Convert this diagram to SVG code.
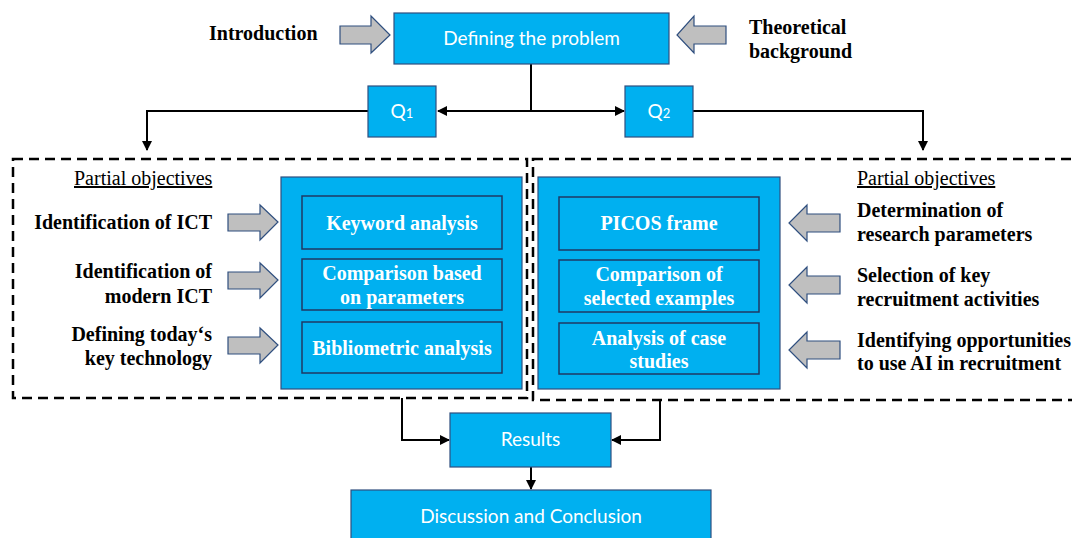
<svg xmlns="http://www.w3.org/2000/svg" width="1072" height="538" viewBox="0 0 1072 538">
<defs>
<style>
.bx{fill:#00B0F0;stroke:#2F4F7F;stroke-width:1.2}
.ib{fill:#00B0F0;stroke:#1F3864;stroke-width:1.5}
.st{font-family:Lato,"Liberation Sans",sans-serif;font-size:19px;fill:#fff;text-anchor:middle}
.sr{font-family:"Liberation Serif","Times New Roman",serif;font-size:20px;font-weight:bold;fill:#000}
.wt{font-family:"Liberation Serif","Times New Roman",serif;font-size:20px;font-weight:bold;fill:#fff;text-anchor:middle}
.po{font-family:"Liberation Serif","Times New Roman",serif;font-size:20px;fill:#000;text-decoration:underline}
.ga{fill:#BFBFBF;stroke:#2F4F7F;stroke-width:1.2}
.cn{fill:none;stroke:#000;stroke-width:2}
.ds{fill:none;stroke:#000;stroke-width:2.5;stroke-dasharray:10 6}
</style>
<marker id="ah" viewBox="0 0 10 10" refX="9" refY="5" markerWidth="5" markerHeight="5" orient="auto" markerUnits="strokeWidth">
<path d="M0,0 L10,5 L0,10 z" fill="#000"/>
</marker>
</defs>
<rect width="1072" height="538" fill="#fff"/>

<g id="frames">
<rect class="ds" x="13" y="159" width="514" height="239"/>
<rect class="ds" x="533" y="159" width="560" height="241"/>
</g>

<g id="connectors">
<line class="cn" x1="531" y1="64" x2="531" y2="111"/>
<line class="cn" x1="531" y1="111" x2="438" y2="111" marker-end="url(#ah)"/>
<line class="cn" x1="531" y1="111" x2="624" y2="111" marker-end="url(#ah)"/>
<polyline class="cn" points="368,111 147,111 147,150" marker-end="url(#ah)"/>
<polyline class="cn" points="693,111 923,111 923,150" marker-end="url(#ah)"/>
<polyline class="cn" points="402,398 402,440 449,440" marker-end="url(#ah)"/>
<polyline class="cn" points="660,400 660,440 612,440" marker-end="url(#ah)"/>
<line class="cn" x1="531" y1="467" x2="531" y2="489" marker-end="url(#ah)"/>
</g>

<g id="intro">
<text class="sr" x="209" y="40">Introduction</text>
<path class="ga" d="M340,26 L371,26 L371,16 L390,35 L371,53 L371,44 L340,44 z"/>
</g>

<g id="theory">
<text class="sr" x="749" y="34">Theoretical</text>
<text class="sr" x="749" y="58">background</text>
<path class="ga" d="M726,26 L694,26 L694,16 L677,35 L694,53 L694,44 L726,44 z"/>
</g>

<g id="problem">
<rect class="bx" x="394" y="13" width="275" height="51"/>
<text class="st" x="531.5" y="45">Defining the problem</text>
</g>

<g id="q1">
<rect class="bx" x="368" y="86" width="68" height="51"/>
<text class="st" x="402" y="118">Q<tspan font-size="13">1</tspan></text>
</g>

<g id="q2">
<rect class="bx" x="625" y="86" width="68" height="51"/>
<text class="st" x="659" y="118">Q<tspan font-size="13">2</tspan></text>
</g>

<g id="left-objectives">
<text class="po" x="74" y="185">Partial objectives</text>
<g text-anchor="end">
<text class="sr" x="212" y="229">Identification of ICT</text>
<text class="sr" x="212" y="278">Identification of</text>
<text class="sr" x="212" y="303">modern ICT</text>
<text class="sr" x="212" y="341">Defining today‘s</text>
<text class="sr" x="212" y="365">key technology</text>
</g>
<path class="ga" d="M228,214 L260,214 L260,205 L278,222 L260,240 L260,231 L228,231 z"/>
<path class="ga" d="M228,272 L260,272 L260,263 L278,280 L260,298 L260,289 L228,289 z"/>
<path class="ga" d="M228,337 L260,337 L260,328 L278,345 L260,363 L260,354 L228,354 z"/>
</g>

<g id="left-methods">
<rect class="bx" x="281" y="177" width="241" height="212"/>
<rect class="ib" x="302" y="196" width="200" height="53"/>
<text class="wt" x="402" y="230">Keyword analysis</text>
<rect class="ib" x="302" y="259" width="200" height="51"/>
<text class="wt" x="402" y="280">Comparison based</text>
<text class="wt" x="402" y="304">on parameters</text>
<rect class="ib" x="302" y="322" width="200" height="51"/>
<text class="wt" x="402" y="355">Bibliometric analysis</text>
</g>

<g id="right-methods">
<rect class="bx" x="538" y="177" width="242" height="212"/>
<rect class="ib" x="559" y="197" width="200" height="53"/>
<text class="wt" x="659" y="230">PICOS frame</text>
<rect class="ib" x="559" y="260" width="200" height="52"/>
<text class="wt" x="659" y="281">Comparison of</text>
<text class="wt" x="659" y="305">selected examples</text>
<rect class="ib" x="559" y="323" width="200" height="51"/>
<text class="wt" x="659" y="345">Analysis of case</text>
<text class="wt" x="659" y="368">studies</text>
</g>

<g id="right-objectives">
<text class="po" x="857" y="185">Partial objectives</text>
<text class="sr" x="857" y="217">Determination of</text>
<text class="sr" x="857" y="241">research parameters</text>
<text class="sr" x="857" y="282">Selection of key</text>
<text class="sr" x="857" y="306">recruitment activities</text>
<text class="sr" x="857" y="347">Identifying opportunities</text>
<text class="sr" x="857" y="370">to use AI in recruitment</text>
<path class="ga" d="M840,214 L807,214 L807,205 L789,223 L807,241 L807,232 L840,232 z"/>
<path class="ga" d="M840,276 L807,276 L807,267 L789,285 L807,303 L807,294 L840,294 z"/>
<path class="ga" d="M840,341 L807,341 L807,332 L789,350 L807,368 L807,359 L840,359 z"/>
</g>

<g id="results">
<rect class="bx" x="450" y="413" width="161" height="54"/>
<text class="st" x="530.5" y="446">Results</text>
</g>

<g id="discussion">
<rect class="bx" x="351" y="490" width="360" height="60"/>
<text class="st" x="531" y="523">Discussion and Conclusion</text>
</g>
</svg>
